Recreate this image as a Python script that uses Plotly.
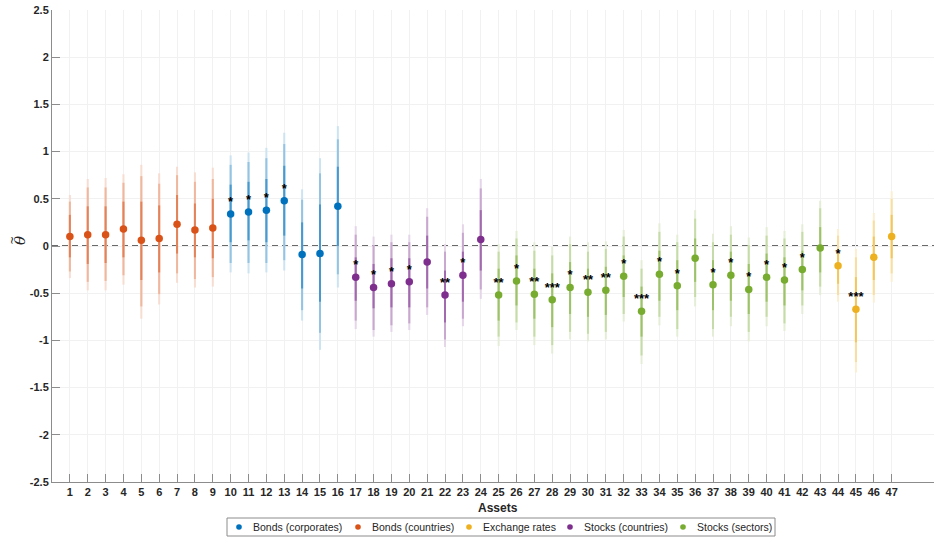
import plotly.graph_objects as go

assets = list(range(1, 48))
groups = (["Bonds (countries)"] * 9 + ["Bonds (corporates)"] * 7 +
          ["Stocks (countries)"] * 8 + ["Stocks (sectors)"] * 19 +
          ["Exchange rates"] * 4)

values = [0.10, 0.12, 0.12, 0.18, 0.06, 0.08, 0.23, 0.17, 0.19,
          0.34, 0.36, 0.38, 0.48, -0.09, -0.08, 0.42,
          -0.33, -0.44, -0.40, -0.38, -0.17, -0.52, -0.31, 0.07,
          -0.52, -0.37, -0.51, -0.57, -0.44, -0.49, -0.47, -0.32, -0.69, -0.30,
          -0.42, -0.13, -0.41, -0.31, -0.46, -0.33, -0.36, -0.25, -0.02,
          -0.21, -0.67, -0.12, 0.10]
outer_hi = [0.54, 0.71, 0.72, 0.76, 0.86, 0.77, 0.84, 0.78, 0.83,
            0.96, 0.99, 1.04, 1.20, 0.60, 0.93, 1.27,
            0.21, 0.10, 0.12, 0.12, 0.40, 0.02, 0.23, 0.71,
            0.02, 0.16, 0.04, -0.01, 0.10, 0.04, 0.05, 0.17, -0.15, 0.24,
            0.12, 0.38, 0.13, 0.21, 0.09, 0.20, 0.16, 0.23, 0.48,
            0.18, -0.03, 0.35, 0.58]
outer_lo = [-0.34, -0.47, -0.47, -0.41, -0.77, -0.62, -0.39, -0.44, -0.43,
            -0.28, -0.29, -0.28, -0.26, -0.79, -1.10, -0.44,
            -0.88, -0.96, -0.91, -0.89, -0.73, -1.07, -0.85, -0.56,
            -1.06, -0.89, -1.05, -1.14, -0.99, -1.01, -0.99, -0.80, -1.25, -0.84,
            -0.96, -0.64, -0.96, -0.85, -1.01, -0.85, -0.90, -0.72, -0.52,
            -0.59, -1.34, -0.60, -0.38]
mid_hi = [0.47, 0.62, 0.62, 0.67, 0.74, 0.66, 0.75, 0.68, 0.71,
          0.86, 0.89, 0.93, 1.08, 0.49, 0.77, 1.13,
          0.12, 0.01, 0.04, 0.04, 0.31, -0.06, 0.14, 0.61,
          -0.06, 0.08, -0.05, -0.10, 0.02, -0.06, -0.03, 0.10, -0.24, 0.15,
          0.04, 0.29, 0.04, 0.12, 0.01, 0.11, 0.08, 0.15, 0.40,
          0.11, -0.12, 0.27, 0.50]
mid_lo = [-0.27, -0.38, -0.37, -0.31, -0.64, -0.51, -0.29, -0.35, -0.33,
          -0.18, -0.18, -0.18, -0.15, -0.68, -0.92, -0.30,
          -0.79, -0.89, -0.84, -0.82, -0.65, -0.99, -0.77, -0.46,
          -0.96, -0.81, -0.96, -1.05, -0.91, -0.93, -0.91, -0.72, -1.16, -0.75,
          -0.88, -0.54, -0.88, -0.75, -0.91, -0.75, -0.82, -0.63, -0.43,
          -0.52, -1.23, -0.52, -0.29]
inner_hi = [0.33, 0.42, 0.42, 0.47, 0.47, 0.43, 0.54, 0.45, 0.50,
            0.65, 0.68, 0.71, 0.85, 0.25, 0.44, 0.84,
            -0.12, -0.19, -0.13, -0.13, 0.11, -0.26, -0.06, 0.38,
            -0.24, -0.10, -0.24, -0.29, -0.17, -0.24, -0.22, -0.10, -0.43, -0.05,
            -0.15, 0.08, -0.15, -0.06, -0.19, -0.08, -0.12, -0.05, 0.20,
            -0.03, -0.33, 0.10, 0.33]
inner_lo = [-0.12, -0.19, -0.18, -0.12, -0.36, -0.28, -0.08, -0.12, -0.13,
            0.04, 0.06, 0.04, 0.11, -0.45, -0.59, 0.00,
            -0.58, -0.66, -0.65, -0.65, -0.45, -0.81, -0.59, -0.26,
            -0.79, -0.63, -0.77, -0.86, -0.72, -0.75, -0.73, -0.54, -0.96, -0.58,
            -0.68, -0.38, -0.68, -0.58, -0.72, -0.59, -0.63, -0.47, -0.28,
            -0.40, -1.02, -0.36, -0.13]
signif = ["", "", "", "", "", "", "", "", "",
          "*", "*", "*", "*", "", "", "",
          "*", "*", "*", "*", "", "**", "*", "",
          "**", "*", "**", "***", "*", "**", "**", "*", "***", "*",
          "*", "", "*", "*", "*", "*", "*", "*", "",
          "*", "***", "", ""]

legend_order = ["Bonds (corporates)", "Bonds (countries)", "Exchange rates",
                "Stocks (countries)", "Stocks (sectors)"]
colors = {"Bonds (corporates)": (0, 114, 189),
          "Bonds (countries)": (217, 83, 25),
          "Exchange rates": (237, 177, 32),
          "Stocks (countries)": (126, 47, 142),
          "Stocks (sectors)": (119, 172, 48)}


def tint(rgb, a):
    r, g, b = (round(c * a + 255 * (1 - a)) for c in rgb)
    return f"rgb({r},{g},{b})"


W, H = 934, 537
L, R, T, B = 52, 0, 10, 55
pw, ph = W - L - R, H - T - B


def px_x(p):
    return (p - L) / pw


def px_y(p):
    return (H - B - p) / ph


fig = go.Figure()

# zero reference line
fig.add_shape(type="line", xref="paper", x0=0, x1=1, y0=0, y1=0,
              line=dict(color="#3a3a3a", width=1.3, dash="6px,4px"), layer="below")

layers = [(outer_lo, outer_hi, 0.2), (mid_lo, mid_hi, 0.42), (inner_lo, inner_hi, 0.72)]
for lo, hi, a in layers:
    for g in legend_order:
        xs, ys = [], []
        for i, grp in enumerate(groups):
            if grp == g:
                xs += [assets[i], assets[i], None]
                ys += [lo[i], hi[i], None]
        fig.add_trace(go.Scatter(x=xs, y=ys, mode="lines", showlegend=False,
                                 hoverinfo="skip",
                                 line=dict(color=tint(colors[g], a), width=2)))

for g in legend_order:
    xs = [assets[i] for i in range(47) if groups[i] == g]
    ys = [values[i] for i in range(47) if groups[i] == g]
    fig.add_trace(go.Scatter(x=xs, y=ys, mode="markers", name=g, showlegend=False,
                             marker=dict(color=tint(colors[g], 1.0), size=7.5)))

sx = [assets[i] for i in range(47) if signif[i]]
sy = [values[i] + 0.12 for i in range(47) if signif[i]]
st = [signif[i] for i in range(47) if signif[i]]
fig.add_trace(go.Scatter(x=sx, y=sy, mode="text", text=st, showlegend=False,
                         textposition="middle center", hoverinfo="skip",
                         textfont=dict(family="Liberation Sans, Arial", size=13,
                                       color="black", weight="bold")))

# legend box (drawn manually to match the compact original)
legend_box = (227, 518, 775, 536)
legend_dot_x = [239, 358, 469, 570, 683]
legend_y = 527
shapes = [dict(type="rect", xref="paper", yref="paper",
               x0=px_x(legend_box[0]), x1=px_x(legend_box[2]),
               y0=px_y(legend_box[3]), y1=px_y(legend_box[1]),
               line=dict(color="#8c8c8c", width=1), fillcolor="white")]
annotations = []
for g, dx in zip(legend_order, legend_dot_x):
    shapes.append(dict(type="circle", xref="paper", yref="paper",
                       x0=px_x(dx - 2.8), x1=px_x(dx + 2.8),
                       y0=px_y(legend_y + 2.8), y1=px_y(legend_y - 2.8),
                       line=dict(width=0), fillcolor=tint(colors[g], 1.0)))
    annotations.append(dict(text=g, xref="paper", yref="paper",
                            x=px_x(dx + 12), y=px_y(legend_y), showarrow=False,
                            xanchor="left", yanchor="middle",
                            font=dict(size=10.5, color="#262626")))

annotations += [
    dict(text="<b>Assets</b>", xref="paper", yref="paper",
         x=px_x(498), y=px_y(508), showarrow=False,
         font=dict(size=12, color="#262626"), xanchor="center", yanchor="middle"),
    dict(text="<i>θ</i>", xref="paper", yref="paper",
         x=px_x(20), y=px_y(241), showarrow=False, textangle=-90,
         font=dict(size=15, color="#262626", family="DejaVu Serif"),
         xanchor="center", yanchor="middle"),
    dict(text="~", xref="paper", yref="paper",
         x=px_x(12), y=px_y(241), showarrow=False, textangle=-90,
         font=dict(size=11, color="#262626", family="DejaVu Serif"),
         xanchor="center", yanchor="middle"),
]

fig.update_layout(
    width=W, height=H,
    margin=dict(l=L, r=R, t=T, b=B, autoexpand=False),
    plot_bgcolor="white", paper_bgcolor="white",
    font=dict(family="Liberation Sans, Arial", color="#262626"),
    showlegend=False,
    xaxis=dict(range=[0, 49.37], tickmode="array", tickvals=assets,
               ticktext=[str(a) for a in assets],
               showgrid=True, gridcolor="#f1f1f1", gridwidth=1,
               zeroline=False, showline=True, linecolor="#8c8c8c", linewidth=1,
               ticks="inside", ticklen=8, tickcolor="#8c8c8c",
               tickfont=dict(size=11, color="#262626", weight="bold")),
    yaxis=dict(range=[-2.5, 2.5], tickmode="array",
               tickvals=[-2.5, -2, -1.5, -1, -0.5, 0, 0.5, 1, 1.5, 2, 2.5],
               ticktext=["-2.5", "-2", "-1.5", "-1", "-0.5", "0", "0.5", "1",
                         "1.5", "2", "2.5"],
               showgrid=True, gridcolor="#f1f1f1", gridwidth=1,
               zeroline=False, showline=True, linecolor="#8c8c8c", linewidth=1,
               ticks="inside", ticklen=8, tickcolor="#8c8c8c",
               tickfont=dict(size=11, color="#262626", weight="bold")),
    shapes=fig.layout.shapes + tuple(shapes),
    annotations=annotations,
)

fig.write_html("out.html")
